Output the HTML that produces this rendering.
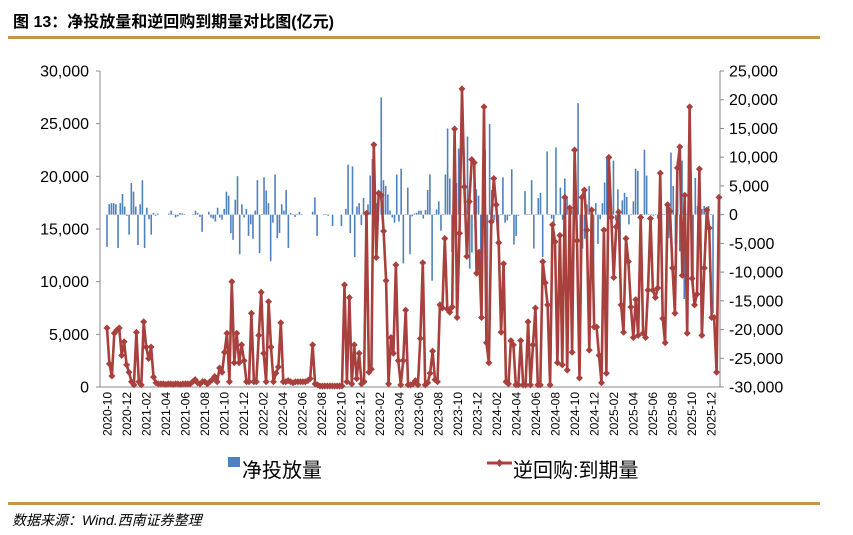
<!DOCTYPE html>
<html><head><meta charset="utf-8">
<style>
body{margin:0;background:#fff;}
svg{display:block;font-family:"Liberation Sans","Noto Sans CJK SC",sans-serif;}
</style></head>
<body>
<svg id="chart" width="853" height="535" viewBox="0 0 853 535">
  <text x="13" y="27" font-size="16" font-weight="bold" fill="#000">图 13：净投放量和逆回购到期量对比图(亿元)</text>
  <rect x="8" y="36" width="812" height="3" fill="#c8934a"/>
  <g id="plot"></g>
  <g>
    <rect x="228" y="457" width="12" height="10" fill="#4f81bd"/>
    <text x="242" y="477" font-size="20" fill="#000">净投放量</text>
    <line x1="487" y1="463" x2="512" y2="463" stroke="#a8403d" stroke-width="3"/>
    <path d="M499.5 459 L503 463 L499.5 467 L496 463Z" fill="#a8403d"/>
    <text x="513" y="477" font-size="20" fill="#000">逆回购:到期量</text>
  </g>
  <rect x="8" y="502" width="812" height="3" fill="#c8934a"/>
  <text x="12" y="525" font-size="14" font-style="italic" fill="#000">数据来源：Wind.西南证券整理</text>
</svg>
<script>
const months = ["2020-10","2020-12","2021-02","2021-04","2021-06","2021-08","2021-10","2021-12","2022-02","2022-04","2022-06","2022-08","2022-10","2022-12","2023-02","2023-04","2023-06","2023-08","2023-10","2023-12","2024-02","2024-04","2024-06","2024-08","2024-10","2024-12","2025-02","2025-04","2025-06","2025-08","2025-10","2025-12"];
const leftTicks = [0,5000,10000,15000,20000,25000,30000];
const rightTicks = [-30000,-25000,-20000,-15000,-10000,-5000,0,5000,10000,15000,20000,25000];
const repoMaturity = [5600,2200,1050,5100,5400,5600,3000,4300,2100,1400,500,200,5200,500,200,6200,3800,2700,3800,950,
400,300,300,300,250,300,300,250,300,300,250,300,300,300,300,500,700,400,300,500,500,300,500,700,1000,500,
1800,1400,3300,5100,500,10000,2300,5100,2300,4000,2500,500,500,7000,500,500,4900,9000,3200,500,8100,3800,500,1300,1900,6100,500,
500,600,500,400,500,500,500,500,500,600,800,
4000,300,200,100,100,100,100,100,100,100,100,100,100,
9700,500,8500,300,4000,800,3200,300,500,16500,1400,1700,23000,12300,18400,18200,14800,10100,300,4700,3200,11600,2500,200,2500,7300,200,200,300,600,200,4600,11800,200,400,1300,3400,700,500,7800,7500,14100,7400,7100,7600,24500,6600,14600,28300,19000,12400,17600,21600,21300,10800,12800,6600,26600,4200,2300,15700,19800,17300,13700,5200,11700,500,300,4400,4000,200,200,4400,200,200,6200,200,4000,7500,200,200,11900,9900,7800,200,15400,13800,2300,14400,2100,18000,1600,17000,3300,22500,13900,850,18000,18700,14900,3500,16800,5700,5700,3000,400,14900,1300,21800,16100,10400,15200,16600,7800,5200,14100,11900,7600,4700,8300,4900,16100,5100,4700,9200,16000,9200,8500,9400,20300,6500,4200,17300,16700,11300,7000,20800,22800,10600,18200,5100,26600,10300,7800,8800,20700,4900,11300,16800,15100,6600,6600,1400,18000];
const netInjection = [-5600,1800,2000,2000,1800,-5800,2000,3600,1400,-200,-3500,5500,4000,1400,-5300,1800,6000,-5800,1200,-800,-3500,300,-200,200,
null,null,null,null,
200,700,100,-500,-300,300,200,100,
null,null,null,
100,700,300,-400,-3000,
null,null,
500,-500,-700,-1200,1200,-500,-900,1000,4000,3300,-3200,-4400,2600,6700,-6900,1800,-500,1000,-3700,-1700,-4200,700,6000,-6700,100,6500,
4200,2000,-8100,-1400,7000,-4100,-3200,1800,700,4300,-5800,300,100,-400,100,500,100,
null,null,null,null,
500,3000,-3700,null,null,100,100,-200,null,-2000,null,null,null,-2000,null,
1000,8700,-3200,8400,-7400,1400,2000,-1800,2900,-3000,1800,6800,9700,100,2000,null,20400,6000,5000,3500,700,-500,-1400,7000,-1200,8000,-8500,100,4700,-6900,-300,200,300,700,
700,-700,800,4300,7000,-11500,100,900,2300,-2800,100,7000,15000,6300,-6500,1800,5500,11500,100,100,null,13600,-9400,-6600,8400,4400,3300,-9200,3300,11300,-24400,15800,4300,-1000,100,-3700,100,6500,-1400,-1000,-200,7900,-5200,-3700,-200,null,null,4100,100,100,6000,-5900,100,2900,3800,-7400,null,11000,100,-700,-2000,11700,100,4700,-900,6300,3100,
1400,900,1200,100,19400,-13100,-5900,-4200,1800,5000,1400,-11100,2000,-5100,-800,2000,5600,9900,3400,-2800,9400,-1000,4400,-7300,2500,3800,3100,-1700,100,2300,8000,7600,-900,100,11300,6800,100,100,-200,100,-700,100,100,100,1800,-4100,10800,5000,-5200,9400,-6400,9400,-14700,100,12200,7500,-13100,6400,1500,1500,1000,1500,100,1500,100,-17100];

const NS = "http://www.w3.org/2000/svg";
const plot = document.getElementById('plot');
const X0 = 100, X1 = 720, YT = 71, YB = 387;
function yL(v){ return YB - v / 30000 * (YB - YT); }
function yR(v){ return YT + (25000 - v) / 55000 * (YB - YT); }
function xMonth(i){ return 107 + i * 19.48; }
function xLine(i){ return 107 + i * (612 / (repoMaturity.length - 1)); }
function xBar(i){ return 107 + i * (606 / (netInjection.length - 1)); }
function mk(tag, attrs){ const e = document.createElementNS(NS, tag); for (const k in attrs) e.setAttribute(k, attrs[k]); plot.appendChild(e); return e; }

let a = mk('line', {x1:X0, y1:YT, x2:X0, y2:YB, stroke:'#888', 'stroke-width':1});


a = mk('line', {x1:X1, y1:YT, x2:X1, y2:YB, stroke:'#888', 'stroke-width':1});


a = mk('line', {x1:X0, y1:YB, x2:X1, y2:YB, stroke:'#888', 'stroke-width':1});



leftTicks.forEach(v => {
  const y = yL(v);
  const t = mk('line', {x1:X0-4, y1:y, x2:X0, y2:y, stroke:'#888'});
  
  
  const l = mk('text', {x:89, y:y+5.5, 'font-size':16, 'text-anchor':'end', fill:'#000'});
  l.textContent = v.toLocaleString('en-US');
  
  
});
rightTicks.forEach(v => {
  const y = yR(v);
  const t = mk('line', {x1:X1, y1:y, x2:X1+4, y2:y, stroke:'#888'});
  
  
  const l = mk('text', {x:729, y:y+5.5, 'font-size':16, fill:'#000'});
  l.textContent = v.toLocaleString('en-US');
  
  
});
months.forEach((m, i) => {
  const x = xMonth(i);
  const l = mk('text', {x:0, y:0, 'font-size':12, 'text-anchor':'end', fill:'#000', transform:`translate(${x+4.5},392) rotate(-90)`});
  l.textContent = m;
  
  
});

const y0 = yR(0);
netInjection.forEach((v, i) => {
  if (v === null) return;
  const y = yR(v);
  const b = mk('rect', {x:xBar(i)-0.8, y:Math.min(y, y0), width:1.6, height:Math.max(0.6, Math.abs(y - y0)), fill:'#4f81bd'});
  
  
});

const pts = repoMaturity.map((v, i) => xLine(i).toFixed(1) + ',' + yL(v).toFixed(1)).join(' ');
const pl = mk('polyline', {points:pts, fill:'none', stroke:'#a8403d', 'stroke-width':2.6, 'stroke-linejoin':'round'});


repoMaturity.forEach((v, i) => {
  const x = xLine(i), y = yL(v);
  const d = mk('path', {d:`M${x} ${y-3.5} L${x+3.5} ${y} L${x} ${y+3.5} L${x-3.5} ${y}Z`, fill:'#a8403d'});
  
  
});
</script>
</body></html>
